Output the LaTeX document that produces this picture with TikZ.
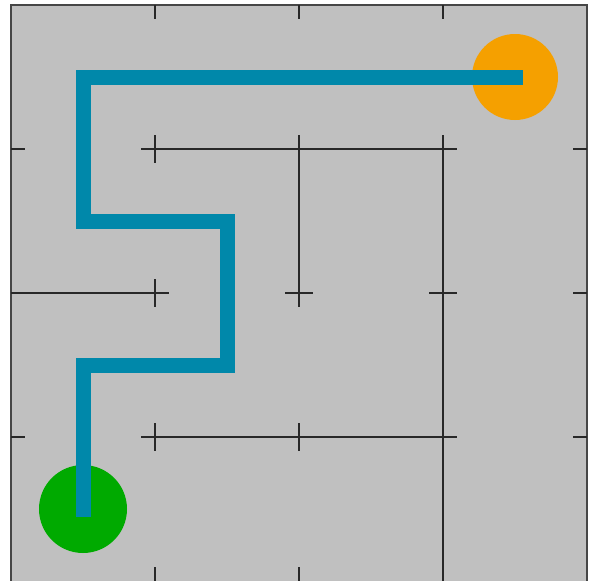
\documentclass[tikz,border=0pt]{standalone}
\begin{document}
\begin{tikzpicture}[x=1pt,y=-1pt,
  wall/.style={draw={rgb,255:red,40;green,40;blue,40},line width=1.1pt},
  border/.style={draw={rgb,255:red,70;green,70;blue,70},line width=1.4pt},
  tick/.style={draw={rgb,255:red,40;green,40;blue,40},line width=1.1pt},
  route/.style={draw={rgb,255:red,0;green,136;blue,170},line width=15pt,line cap=rect,line join=miter},
  goal/.style={circle,fill={rgb,255:red,245;green,160;blue,0},minimum size=86pt,inner sep=0pt},
  start/.style={circle,fill={rgb,255:red,0;green,170;blue,0},minimum size=88pt,inner sep=0pt}]
\useasboundingbox (0,0) rectangle (590,581);
\fill[fill={rgb,255:red,192;green,192;blue,192}] (11,5) rectangle (587,581);
% border
\draw[border] (11,581) -- (11,5) -- (587,5) -- (587,581);
% walls
\draw[wall] (155,149) -- (443,149);
\draw[wall] (299,149) -- (299,293);
\draw[wall] (443,149) -- (443,581);
\draw[wall] (11,293) -- (155,293);
\draw[wall] (155,437) -- (443,437);
% interior ticks
\foreach \x in {155,299,443}{
  \foreach \y in {149,293,437}{
    \draw[tick] (\x-14,\y) -- (\x+14,\y);
    \draw[tick] (\x,\y-14) -- (\x,\y+14);
  }
  \draw[tick] (\x,5) -- (\x,19);
  \draw[tick] (\x,581) -- (\x,567);
}
\foreach \y in {149,293,437}{
  \draw[tick] (11,\y) -- (25,\y);
  \draw[tick] (587,\y) -- (573,\y);
}
% start and goal
\node[start] (s) at (83,509) {};
\node[goal] (g) at (515,77) {};
\coordinate (b1) at (83,365);
\coordinate (b2) at (227,365);
\coordinate (b3) at (227,221);
\coordinate (b4) at (83,221);
\coordinate (b5) at (83,77);
\draw[route] (s.center) -- (b1) -- (b2) -- (b3) -- (b4) -- (b5) -- (g.center);
\end{tikzpicture}
\end{document}
